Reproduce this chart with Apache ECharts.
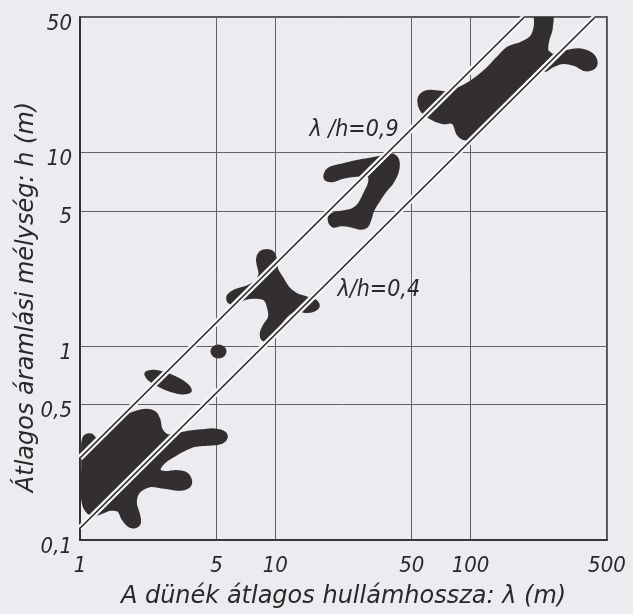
<!DOCTYPE html>
<html>
<head>
<meta charset="utf-8">
<script src="https://cdn.jsdelivr.net/npm/echarts@6/dist/echarts.min.js"></script>
<style>
html,body{margin:0;padding:0;background:#ecebef;}
#chart{width:633px;height:614px;}
</style>
</head>
<body>
<div id="chart"></div>
<script>
// Axis ticks
const xTicks = [1, 5, 10, 50, 100, 500];
const yTicks = [0.1, 0.5, 1, 5, 10, 50];

// Boundary lines (λ, h)
const upperLine = [[1, 0.265], [188.7, 50]];
const lowerLine = [[1, 0.115], [435, 50]];

// Line labels (λ, h of label centre)
const lineLabels = [
  { name: 'λ /h=0,9', value: [25.3, 13.0] },
  { name: 'λ/h=0,4', value: [33.9, 1.95] }
];

// Data fields (outlines in λ, h)
const blob1 = [[1.033,0.318],[1.063,0.344],[1.141,0.348],[1.21,0.331],[1.31,0.337],[1.447,0.379],[1.629,0.422],[1.873,0.451],[2.19,0.467],[2.418,0.454],[2.541,0.415],[2.59,0.376],[2.731,0.350],[2.931,0.344],[3.437,0.357],[4.179,0.366],[4.895,0.370],[5.507,0.357],[5.605,0.337],[5.278,0.318],[4.511,0.312],[3.857,0.307],[3.357,0.290],[3.043,0.274],[2.702,0.253],[2.544,0.230],[2.747,0.223],[3.094,0.226],[3.437,0.222],[3.662,0.207],[3.628,0.190],[3.297,0.183],[2.907,0.185],[2.587,0.188],[2.299,0.191],[2.003,0.178],[1.92,0.156],[1.995,0.135],[2.017,0.123],[1.912,0.117],[1.769,0.119],[1.656,0.129],[1.576,0.142],[1.428,0.144],[1.294,0.139],[1.174,0.135],[1.085,0.141],[1.036,0.157],[1.027,0.195],[1.033,0.247],[1.032,0.283]];
const blob2 = [[3.675,0.588],[3.333,0.574],[2.741,0.605],[2.296,0.666],[2.173,0.725],[2.399,0.742],[2.913,0.704],[3.477,0.639]];
const dot = [[5.12, 0.94]];
const blob4 = [[8.11,2.81],[8.38,3.04],[9.0,3.12],[9.73,3.04],[10.07,2.75],[10.18,2.49],[10.78,2.26],[11.64,2.0],[12.84,1.85],[14.31,1.78],[15.91,1.72],[16.61,1.61],[15.71,1.53],[14.29,1.51],[12.9,1.54],[11.73,1.47],[10.71,1.33],[9.88,1.18],[9.23,1.08],[8.67,1.08],[8.48,1.17],[8.8,1.28],[9.34,1.41],[9.27,1.56],[8.83,1.75],[7.84,1.79],[6.97,1.76],[6.2,1.67],[5.79,1.69],[5.73,1.81],[6.2,1.93],[7.13,2.02],[7.96,2.14],[8.35,2.36],[8.2,2.6]];
const blob5 = [[18.05,7.76],[19.0,8.29],[21.8,8.6],[25.5,8.93],[29.9,9.2],[35.0,9.48],[38.2,9.76],[41.3,9.52],[42.7,8.81],[42.0,7.83],[39.6,6.96],[36.5,6.31],[33.7,5.61],[31.5,4.99],[30.6,4.53],[29.4,4.15],[27.1,4.06],[24.3,4.19],[21.6,4.23],[19.8,4.17],[18.9,4.46],[19.4,4.78],[21.7,4.92],[24.9,5.07],[26.9,5.41],[28.6,6.08],[30.4,6.99],[29.9,7.62],[26.0,7.62],[22.2,7.44],[19.7,7.15],[18.2,7.25]];
const blob6 = [[218,57],[258,57],[259,43.5],[249.5,38.3],[246,33.6],[258,31.6],[124.3,15.0],[114.4,13.19],[104,12.0],[93.4,11.75],[86.1,12.48],[81.4,14.23],[71.5,14.25],[62.0,15.15],[55.8,16.67],[54.7,19.2],[59.5,20.6],[66.9,20.6],[76.1,20.3],[85.7,21.2],[100,23.0],[118.1,26.2],[138,30.8],[155.4,34.6],[181.4,36.6],[204.3,39.3],[214.5,44.7]];
const blob6Tail = [[234.3,28.5],[257.8,31.3],[297.2,32.8],[354.6,33.9],[408.7,32.6],[438,30.0],[432.5,27.6],[388.9,26.7],[341.6,28.4],[296.9,29.1],[260.4,27.8],[239.9,26.5]];

const BG = '#ecebef';
const INK = '#2b2829';
const BLOB = '#332f31';
const FONT = '"DejaVu Sans Condensed", "Liberation Sans Narrow", "DejaVu Sans", sans-serif';
const TITLE_FONT = '"DejaVu Sans", sans-serif';

function nearest(list, v) {
  return list.reduce((a, b) => Math.abs(Math.log(b / v)) < Math.abs(Math.log(a / v)) ? b : a);
}
function fmt(list) {
  return v => String(nearest(list, v)).replace('.', ',');
}

function blobSeries(points) {
  return {
    type: 'custom',
    clip: true,
    silent: true,
    z: 3,
    data: points,
    renderItem: function (params, api) {
      if (params.dataIndex !== 0) return null;
      const pts = points.map(p => api.coord(p));
      return {
        type: 'polygon',
        shape: { points: pts, smooth: 0.35 },
        style: { fill: BLOB, stroke: BLOB, lineWidth: 3, lineJoin: 'round' }
      };
    }
  };
}

const chart = echarts.init(document.getElementById('chart'), null, { renderer: 'canvas' });

const series = [
  blobSeries(blob1),
  blobSeries(blob2),
  blobSeries(blob4),
  blobSeries(blob5),
  blobSeries(blob6),
  blobSeries(blob6Tail),
  {
    type: 'scatter', silent: true, z: 3, data: dot,
    symbol: 'circle', symbolSize: [16, 14],
    itemStyle: { color: BLOB, opacity: 1 }
  }
];
[upperLine, lowerLine].forEach(line => {
  series.push({
    type: 'line', silent: true, z: 4, data: line, symbol: 'none',
    lineStyle: { color: '#f7f7f9', width: 6 }
  });
});
[upperLine, lowerLine].forEach(line => {
  series.push({
    type: 'line', silent: true, z: 5, data: line, symbol: 'none',
    lineStyle: { color: INK, width: 1.6 }
  });
});
series.push({
  type: 'scatter', silent: true, z: 6, data: lineLabels,
  symbolSize: 1, itemStyle: { color: 'rgba(0,0,0,0)', opacity: 1 },
  label: {
    show: true, position: 'inside', formatter: '{b}',
    fontFamily: FONT, fontStyle: 'italic', fontSize: 23, color: INK, opacity: 1
  }
});

chart.setOption({
  backgroundColor: BG,
  animation: false,
  grid: {
    left: 80, right: 26, top: 17, bottom: 71,
    show: true, borderColor: INK, borderWidth: 1.6, backgroundColor: 'transparent'
  },
  xAxis: {
    type: 'log', logBase: 10, min: 1, max: 500,
    name: 'A dünék átlagos hullámhossza: λ (m)',
    nameLocation: 'middle', nameGap: 45,
    nameTextStyle: { fontFamily: TITLE_FONT, fontStyle: 'italic', fontSize: 24, color: INK },
    axisLine: { show: true, lineStyle: { color: INK, width: 1.6 } },
    axisTick: { show: false, customValues: xTicks },
    axisLabel: {
      customValues: xTicks, formatter: fmt(xTicks), margin: 15,
      fontFamily: FONT, fontStyle: 'italic', fontSize: 22, color: INK
    },
    splitLine: { show: true, lineStyle: { color: '#606065', width: 1 } },
    minorTick: { show: false }, minorSplitLine: { show: false }
  },
  yAxis: {
    type: 'log', logBase: 10, min: 0.1, max: 50,
    axisLine: { show: true, lineStyle: { color: INK, width: 1.6 } },
    axisTick: { show: false, customValues: yTicks },
    axisLabel: {
      customValues: yTicks, formatter: fmt(yTicks), margin: 8,
      verticalAlign: 'top', lineHeight: 14,
      fontFamily: FONT, fontStyle: 'italic', fontSize: 22, color: INK
    },
    splitLine: { show: true, lineStyle: { color: '#606065', width: 1 } },
    minorTick: { show: false }, minorSplitLine: { show: false }
  },
  graphic: [{
    type: 'text', x: 27, y: 297, rotation: Math.PI / 2, silent: true,
    style: {
      text: 'Átlagos áramlási mélység: h (m)',
      fontFamily: TITLE_FONT, fontStyle: 'italic', fontSize: 24, fill: INK,
      align: 'center', verticalAlign: 'middle'
    }
  }],
  series: series
});
</script>
</body>
</html>
